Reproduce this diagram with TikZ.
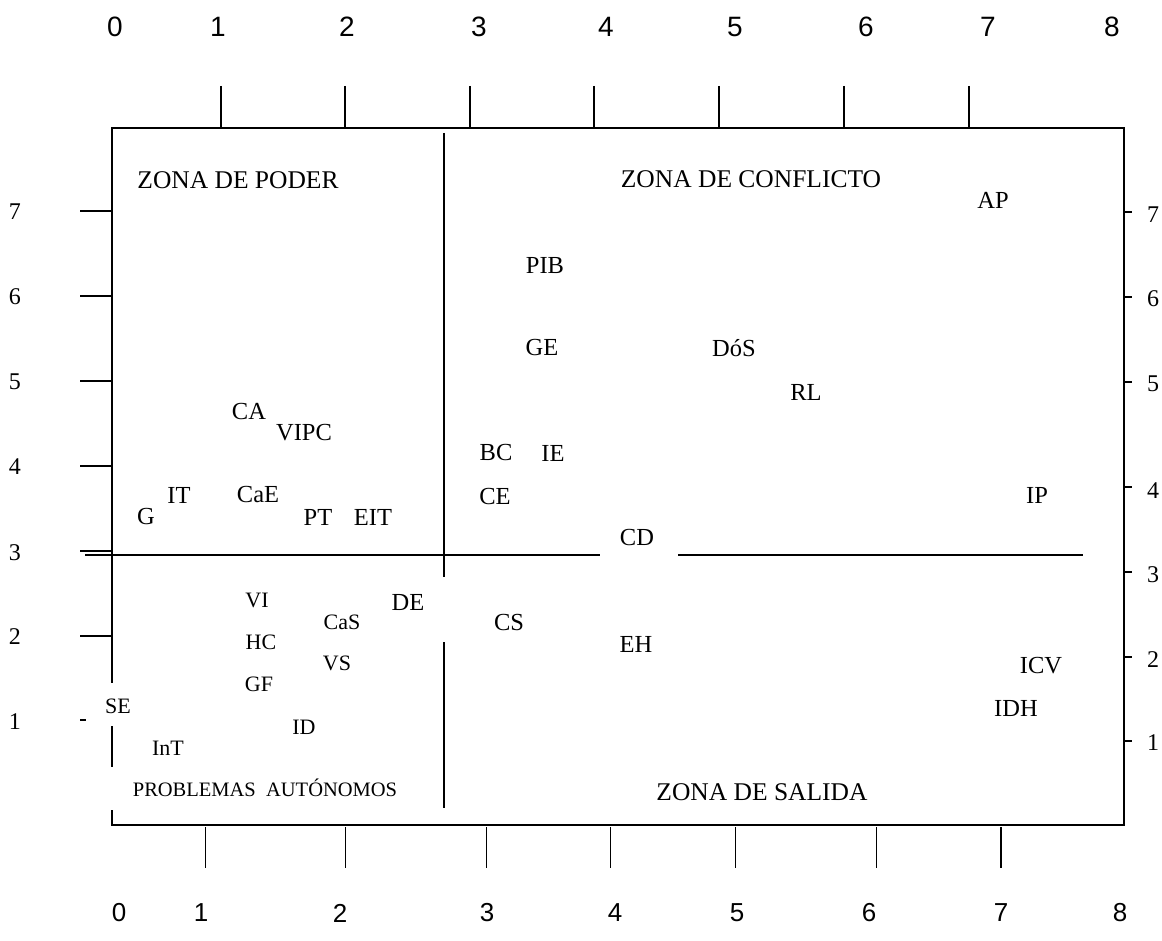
\documentclass[tikz,border=0pt]{standalone}
\usepackage{fontspec}
\setmainfont{Liberation Serif}
\newfontfamily\axisfont{Liberation Sans}
\begin{document}
\begin{tikzpicture}[x=1pt,y=-1pt,
  lab/.style={inner sep=0pt, font=\fontsize{24.5}{26}\selectfont},
  labs/.style={inner sep=0pt, font=\fontsize{22}{24}\selectfont},
  zona/.style={inner sep=0pt, font=\fontsize{25.5}{27}\selectfont},
  small/.style={inner sep=0pt, font=\fontsize{20.5}{22}\selectfont},
  axnum/.style={inner sep=0pt, font=\axisfont\fontsize{28}{30}\selectfont},
  axnumb/.style={inner sep=0pt, font=\axisfont\fontsize{26}{28}\selectfont},
  ynum/.style={inner sep=0pt, font=\fontsize{24}{26}\selectfont},
  frame/.style={line width=2pt},
  tickline/.style={line width=1.3pt}]
\useasboundingbox (0,0) rectangle (1162,941);
% frame
\draw[frame] (112,810) -- (112,825) -- (1124,825) -- (1124,128) -- (112,128) -- (112,683);
\draw[frame] (112,726) -- (112,767);
% middle lines
\draw[frame] (85,555) -- (600,555);
\draw[frame] (678,555) -- (1083,555);
\draw[frame] (444,133) -- (444,577);
\draw[frame] (444,642) -- (444,808);
% top ticks
\foreach \x in {221,345,470,594,719,844,969} \draw[tickline] (\x,86) -- (\x,128);
% bottom ticks
\foreach \x in {205.5,345.8,486.8,610.7,735.4,876.4,1001} \draw[tickline] (\x,827) -- (\x,868);
% left ticks
\foreach \y in {211,296,381,466,551,636} \draw[tickline] (80,\y) -- (112,\y);
\draw[tickline] (80,720) -- (86,720);
% right ticks
\foreach \y in {212,297,382,487,572,657,741} \draw[tickline] (1124,\y) -- (1132,\y);
% top numbers
\node[axnum] (t0) at (115,27) {0};
\node[axnum] (t1) at (218,27) {1};
\node[axnum] (t2) at (347,27) {2};
\node[axnum] (t3) at (479,27) {3};
\node[axnum] (t4) at (606,27) {4};
\node[axnum] (t5) at (735,27) {5};
\node[axnum] (t6) at (866,27) {6};
\node[axnum] (t7) at (988,27) {7};
\node[axnum] (t8) at (1112,27) {8};
% bottom numbers
\node[axnumb] (b0) at (119,913) {0};
\node[axnumb] (b1) at (201,913) {1};
\node[axnumb] (b2) at (340,913) {2};
\node[axnumb] (b3) at (487,913) {3};
\node[axnumb] (b4) at (615,913) {4};
\node[axnumb] (b5) at (737,913) {5};
\node[axnumb] (b6) at (869,913) {6};
\node[axnumb] (b7) at (1001,913) {7};
\node[axnumb] (b8) at (1120,913) {8};
% left numbers
\node[ynum] (l7) at (15,212) {7};
\node[ynum] (l6) at (15,297) {6};
\node[ynum] (l5) at (15,382) {5};
\node[ynum] (l4) at (15,467) {4};
\node[ynum] (l3) at (15,553) {3};
\node[ynum] (l2) at (15,637) {2};
\node[ynum] (l1) at (15,722) {1};
% right numbers
\node[ynum] (r7) at (1153,215) {7};
\node[ynum] (r6) at (1153,299) {6};
\node[ynum] (r5) at (1153,384) {5};
\node[ynum] (r4) at (1153,491) {4};
\node[ynum] (r3) at (1153,575) {3};
\node[ynum] (r2) at (1153,660) {2};
\node[ynum] (r1) at (1153,743) {1};
% zone titles
\node[zona] (zp) at (238,180) {ZONA DE PODER};
\node[zona] (zc) at (751,179) {ZONA DE CONFLICTO};
\node[zona] (zs) at (762,792) {ZONA DE SALIDA};
\node[small] (pa) at (265,788) {PROBLEMAS\ \ AUTÓNOMOS};
% labels upper right
\node[lab] (AP) at (993,200) {AP};
\node[lab] (PIB) at (545,266) {PIB};
\node[lab] (GE) at (542,348) {GE};
\node[lab] (DoS) at (734,348) {DóS};
\node[lab] (RL) at (806,392) {RL};
\node[lab] (BC) at (496,453) {BC};
\node[lab] (IE) at (553,453) {IE};
\node[lab] (CE) at (495,497) {CE};
\node[lab] (IP) at (1037,495) {IP};
\node[lab] (CD) at (637,538) {CD};
% labels upper left
\node[lab] (CA) at (249,412) {CA};
\node[lab] (VIPC) at (304,433) {VIPC};
\node[lab] (IT) at (179,495) {IT};
\node[lab] (G) at (146,517) {G};
\node[lab] (CaE) at (258,495) {CaE};
\node[lab] (PT) at (318,517) {PT};
\node[lab] (EIT) at (373,517) {EIT};
% labels lower left
\node[labs] (VI) at (257,600) {VI};
\node[lab] (DE) at (408,602) {DE};
\node[labs] (CaS) at (342,622) {CaS};
\node[labs] (HC) at (261,642) {HC};
\node[labs] (VS) at (337,663) {VS};
\node[labs] (GF) at (259,684) {GF};
\node[labs] (SE) at (118,706) {SE};
\node[labs] (ID) at (304,727) {ID};
\node[labs] (InT) at (168,748) {InT};
% labels lower right
\node[lab] (CS) at (509,623) {CS};
\node[lab] (EH) at (636,644) {EH};
\node[lab] (ICV) at (1041,666) {ICV};
\node[lab] (IDH) at (1016,708) {IDH};
\end{tikzpicture}
\end{document}
